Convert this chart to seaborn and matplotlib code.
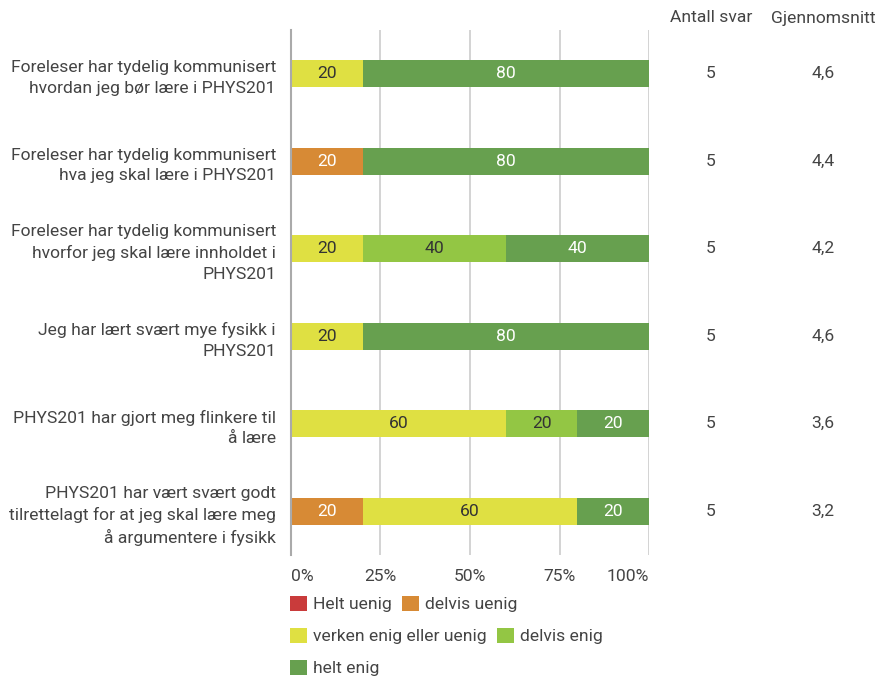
import matplotlib
matplotlib.use("Agg")
import matplotlib.pyplot as plt
import seaborn as sns
import numpy as np
import pandas as pd
from matplotlib.patches import Patch
from matplotlib.transforms import blended_transform_factory

categories = [
    "Foreleser har tydelig kommunisert\nhvordan jeg bør lære i PHYS201",
    "Foreleser har tydelig kommunisert\nhva jeg skal lære i PHYS201",
    "Foreleser har tydelig kommunisert\nhvorfor jeg skal lære innholdet i\nPHYS201",
    "Jeg har lært svært mye fysikk i\nPHYS201",
    "PHYS201 har gjort meg flinkere til\nå lære",
    "PHYS201 har vært svært godt\ntilrettelagt for at jeg skal lære meg\nå argumentere i fysikk",
]
series_names = ["Helt uenig", "delvis uenig", "verken enig eller uenig", "delvis enig", "helt enig"]
helt_uenig = [0, 0, 0, 0, 0, 0]
delvis_uenig = [0, 20, 0, 0, 0, 20]
verken = [20, 0, 20, 20, 60, 60]
delvis_enig = [0, 0, 40, 0, 20, 0]
helt_enig = [80, 80, 40, 80, 20, 20]
antall_svar = ["5", "5", "5", "5", "5", "5"]
gjennomsnitt = ["4,6", "4,4", "4,2", "4,6", "3,6", "3,2"]
x_ticks = [0, 25, 50, 75, 100]
x_ticklabels = ["0%", "25%", "50%", "75%", "100%"]

colors = ["#c93b3b", "#d78a35", "#dfe042", "#93c644", "#67a04f"]
text_colors = ["white", "white", "#333333", "#333333", "white"]

sns.set_theme(style="white")
plt.rcParams["font.family"] = ["Roboto", "DejaVu Sans"]
FS = 12.6

series = [helt_uenig, delvis_uenig, verken, delvis_enig, helt_enig]
vals = np.array(series, dtype=float)
cum = np.cumsum(vals, axis=0)

fig = plt.figure(figsize=(8.78, 6.84), dpi=100)
ax = fig.add_axes([291/878, 1-555/684, (649-291)/878, (555-30)/684])

# draw cumulative bars from largest to smallest for stacking
for k in range(len(series) - 1, -1, -1):
    df = pd.DataFrame({"cat": categories, "val": cum[k]})
    sns.barplot(data=df, x="val", y="cat", color=colors[k], orient="h",
                width=0.31, ax=ax, saturation=1, linewidth=0, zorder=3)

# segment labels
for k in range(len(series)):
    for i in range(len(categories)):
        v = vals[k, i]
        if v > 0:
            ax.text(cum[k, i] - v/2, i, f"{int(v)}", ha="center", va="center",
                    color=text_colors[k], fontsize=FS, zorder=5)

ax.set_xlim(0, 100)
ax.set_ylim(len(categories) - 0.5, -0.5)
ax.set_xticks(x_ticks)
ax.set_xticklabels(x_ticklabels)
ax.set_xlabel("")
ax.set_ylabel("")
ax.tick_params(axis="x", length=0, pad=10, labelsize=FS, labelcolor="#444444")
ax.tick_params(axis="y", length=0, pad=10.8, labelsize=FS, labelcolor="#444444")
xl = ax.get_xticklabels()
xl[0].set_horizontalalignment("left")
xl[-1].set_horizontalalignment("right")
for lbl in ax.get_yticklabels():
    lbl.set_linespacing(1.45)
for s in ["top", "right", "bottom"]:
    ax.spines[s].set_visible(False)
ax.spines["left"].set_color("#aaaaaa")
ax.spines["left"].set_linewidth(1.5)
ax.spines["left"].set_zorder(4)
for xv in x_ticks[1:]:
    ax.axvline(xv, color="#cccccc", lw=1.2, zorder=1)

# side columns
tr = blended_transform_factory(fig.transFigure, ax.transData)
fig.text(711/878, 1-18/684, "Antall svar", ha="center", va="center", fontsize=FS, color="#444444")
fig.text(823/878, 1-18/684, "Gjennomsnitt", ha="center", va="center", fontsize=FS, color="#444444")
for i in range(len(categories)):
    ax.text(711/878, i, antall_svar[i], transform=tr, ha="center", va="center", fontsize=FS, color="#444444")
    ax.text(823/878, i, gjennomsnitt[i], transform=tr, ha="center", va="center", fontsize=FS, color="#444444")

# legend in three flow rows
rows = [[0, 1], [2, 3], [4]]
row_y = [604, 636, 668]
for r, yy in zip(rows, row_y):
    handles = [Patch(facecolor=colors[k], edgecolor="none", label=series_names[k]) for k in r]
    fig.legend(handles=handles, loc="center left", bbox_to_anchor=(290/878, 1-yy/684),
               ncol=len(r), frameon=False, fontsize=FS, handlelength=1.0, handleheight=1.0,
               handletextpad=0.3, columnspacing=0.6, borderpad=0, borderaxespad=0,
               labelcolor="#444444")

fig.savefig("out.png", dpi=100)
